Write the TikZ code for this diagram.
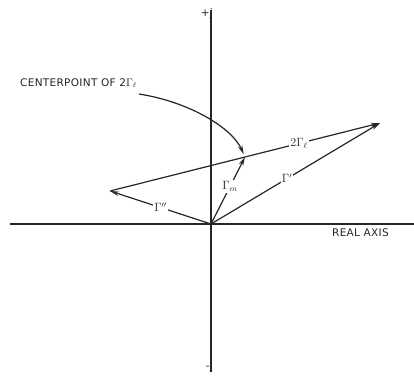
\documentclass[tikz,border=0pt]{standalone}
\usepackage{fontspec}
\setmainfont{DejaVu Sans}
\newfontfamily\lettering[LetterSpace=3]{DejaVu Sans}
\usetikzlibrary{arrows.meta,calc}
\begin{document}
\begin{tikzpicture}[x=1pt,y=-1pt,
  axis/.style={line width=1.7pt, black!85},
  vec/.style={line width=1.2pt, black!85, -{Stealth[length=9pt,width=4.5pt]}},
  lbl/.style={fill=white, inner sep=1.2pt, font=\fontsize{12}{14}\selectfont},
  txt/.style={font=\lettering\fontsize{10.5}{13}\selectfont, inner sep=0pt, text=black!85}]
\useasboundingbox (0,0) rectangle (414,375);
\fill[white] (0,0) rectangle (414,375);
\coordinate (O) at (211,224);
\coordinate (L) at (110,191);
\coordinate (T) at (380,123);
\coordinate (M) at ($(L)!0.5!(T)$);
\coordinate (Xl) at (10,224);
\coordinate (Xr) at (414,224);
\coordinate (Yt) at (211,10);
\coordinate (Yb) at (211,372);
\draw[axis] (Xl) -- (Xr);
\draw[axis] (Yt) -- (Yb);
\node[txt, anchor=east] (pj) at (213,14) {+j};
\node[txt, anchor=east] (mj) at (213,367) {-j};
\node[txt, anchor=north east] (ra) at (389,229) {REAL AXIS};
\draw[vec] (L) -- node[lbl, pos=0.70] {$2\Gamma_{\ell}$} (T);
\draw[vec] (O) -- node[lbl, pos=0.5] {$\Gamma''$} (L);
\draw[vec] (O) -- node[lbl, pos=0.45] {$\Gamma'$} (T);
\draw[vec] (O) -- node[lbl, pos=0.56] {$\Gamma_m$} (M);
\node[txt, anchor=west] (cp) at (20,83) {CENTERPOINT OF 2$\Gamma_{\ell}$};
\draw[vec, shorten >=3pt] ($(cp.east)+(2,11)$) .. controls (190,102) and (232,128) .. (M);
\end{tikzpicture}
\end{document}
